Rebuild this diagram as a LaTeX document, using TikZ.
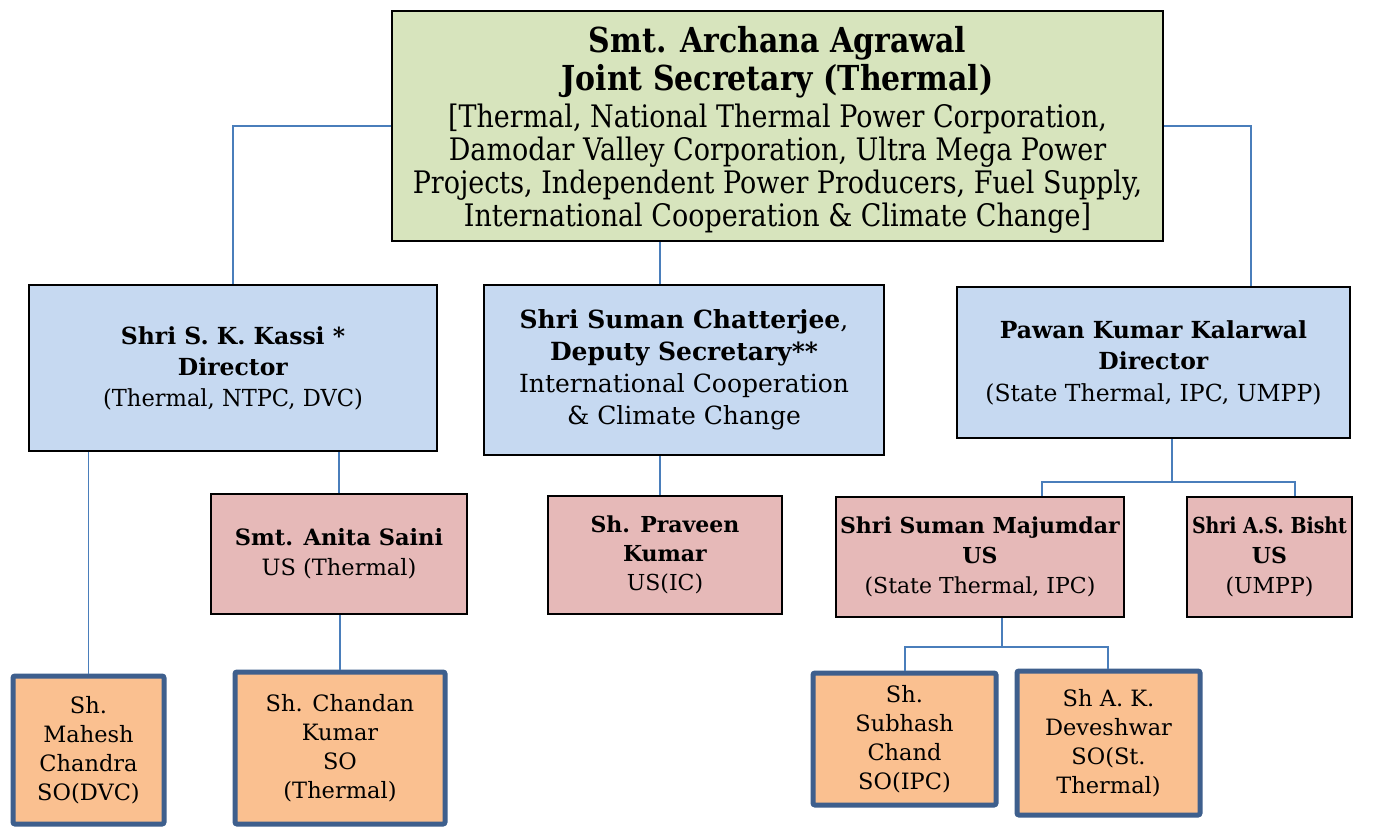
\documentclass[tikz,border=0pt]{standalone}
\usepackage{fontspec}
\usepackage{graphicx}
\setmainfont{DejaVu Serif}
\newfontfamily\condfont[FakeStretch=0.87]{DejaVu Serif}
\usetikzlibrary{calc}
\definecolor{jsgreen}{HTML}{D7E4BD}
\definecolor{dirblue}{HTML}{C6D9F1}
\definecolor{uspink}{HTML}{E6B9B8}
\definecolor{soorange}{HTML}{FAC090}
\definecolor{soframe}{HTML}{3E5F8D}
\definecolor{linkblue}{HTML}{4A7EBB}
\tikzset{
  base/.style={align=center, inner sep=0pt, font=\fontsize{22}{30}\selectfont},
  jsbox/.style={inner sep=0pt, fill=jsgreen, draw=black, line width=2pt},
  jstextstyle/.style={align=center, inner sep=0pt, font=\condfont\fontsize{31}{33}\selectfont},
  dirbox/.style={base, fill=dirblue, draw=black, line width=2pt},
  usbox/.style={base, fill=uspink, draw=black, line width=2pt},
  sobox/.style={base, font=\fontsize{22.5}{29}\selectfont, fill=soorange, draw=soframe, line width=5pt, rounded corners=2pt},
  conn/.style={draw=linkblue, line width=1.6pt},
}
\newcommand{\bb}[1]{\textbf{#1}}
\newcommand{\jsb}[1]{{\fontsize{34.4}{36}\selectfont\bfseries #1}}
\begin{document}
\begin{tikzpicture}[x=1pt,y=-1pt]
\useasboundingbox (0,0) rectangle (1384,829);
\fill[white] (0,0) rectangle (1384,829);

\node[jsbox, minimum width=771, minimum height=230] (js) at (777.5,126) {};
\node[jstextstyle] (jstext) at ([yshift=-4pt]js.center)
  {\jsb{Smt. Archana Agrawal}\\[3pt] \jsb{Joint Secretary (Thermal)}\\[4pt] {[}Thermal, National Thermal Power Corporation,\\ Damodar Valley Corporation, Ultra Mega Power\\ Projects, Independent Power Producers, Fuel Supply,\\ International Cooperation \& Climate Change{]}};

\node[dirbox, minimum width=408, minimum height=166, font=\fontsize{23.5}{31}\selectfont] (kassi) at (233,368)
  {\bb{Shri S. K. Kassi *}\\ \bb{Director}\\ \scalebox{0.96}[1]{(Thermal, NTPC, DVC)}};
\node[dirbox, minimum width=400, minimum height=170, font=\fontsize{25}{32}\selectfont] (chat) at (684,370)
  {\bb{Shri Suman Chatterjee},\\ \bb{Deputy Secretary**}\\ International Cooperation\\ \& Climate Change};
\node[dirbox, minimum width=393, minimum height=151, font=\fontsize{23.5}{31.5}\selectfont] (kal) at (1153.5,362.5)
  {\bb{Pawan Kumar Kalarwal}\\ \bb{Director}\\ (State Thermal, IPC, UMPP)};

\node[usbox, minimum width=256, minimum height=120, font=\fontsize{22.5}{30}\selectfont] (saini) at (339,554)
  {\bb{Smt. Anita Saini}\\ US (Thermal)};
\node[usbox, minimum width=234, minimum height=118, font=\fontsize{22}{29}\selectfont] (praveen) at (665,555)
  {\bb{Sh. Praveen}\\ \bb{Kumar}\\ US(IC)};
\node[usbox, minimum width=288, minimum height=120] (maj) at (980,557)
  {\bb{Shri Suman Majumdar}\\ \bb{US}\\ (State Thermal, IPC)};
\node[usbox, minimum width=165, minimum height=120] (bisht) at (1269.5,557)
  {\scalebox{0.86}[1]{\bb{Shri A.S. Bisht}}\\ \bb{US}\\ (UMPP)};

\node[sobox, minimum width=151, minimum height=148] (mahesh) at (88.5,750)
  {Sh.\\ Mahesh\\ Chandra\\ SO(DVC)};
\node[sobox, minimum width=210, minimum height=152] (chandan) at (340,748)
  {Sh. Chandan\\ Kumar\\ SO\\ (Thermal)};
\node[sobox, minimum width=183, minimum height=132] (subhash) at (904.5,739)
  {Sh.\\ Subhash\\ Chand\\ SO(IPC)};
\node[sobox, minimum width=183, minimum height=144] (dev) at (1108.5,743)
  {Sh A. K.\\ Deveshwar\\ SO(St.\\ Thermal)};

% junction coordinates
\coordinate (cx) at (660,0);
\coordinate (rx) at (1251,0);
\coordinate (kj) at (1172,482);
\coordinate (mj) at (1042,482);
\coordinate (bj) at (1295,482);
\coordinate (sj) at (1002,647);
\coordinate (sl) at (905,647);
\coordinate (sr) at (1108,647);

\draw[conn] (js.west) -| (kassi.north);
\draw[conn] (js.east) -| (rx |- kal.north);
\draw[conn] (cx |- js.south) -- (cx |- chat.north);
\draw[conn] (mahesh.north) -- (mahesh.north |- kassi.south);
\draw[conn] (saini.north) -- (saini.north |- kassi.south);
\draw[conn] (chandan.north) -- (chandan.north |- saini.south);
\draw[conn] (cx |- chat.south) -- (cx |- praveen.north);
\draw[conn] (kj |- kal.south) -- (kj);
\draw[conn] (mj |- maj.north) -- (mj) -- (bj) -- (bj |- bisht.north);
\draw[conn] (sj |- maj.south) -- (sj);
\draw[conn] (sl |- subhash.north) -- (sl) -- (sr) -- (sr |- dev.north);
\end{tikzpicture}
\end{document}
